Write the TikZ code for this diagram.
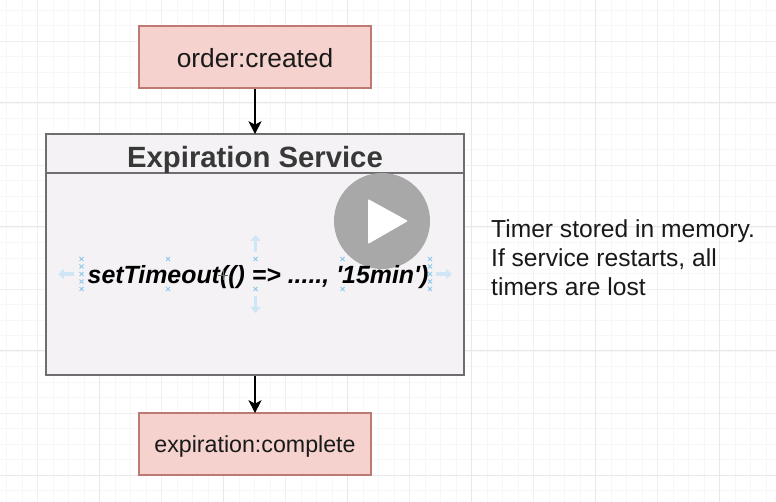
\documentclass[tikz,border=0pt]{standalone}
\usepackage{fontspec}
\setmainfont{Liberation Sans}
\newfontfamily\codefont{Liberation Sans}
\usepackage{tikz}
\usetikzlibrary{arrows.meta}
\definecolor{eventfill}{HTML}{F5D2CE}
\definecolor{eventline}{HTML}{BC7A72}
\definecolor{servicefill}{HTML}{F4F2F5}
\definecolor{serviceline}{HTML}{6E6E6E}
\definecolor{handleblue}{HTML}{CFE6F7}
\definecolor{markblue}{HTML}{8CC8EE}
\tikzset{event/.style={draw=eventline, fill=eventfill, line width=1.6pt, minimum width=232pt, minimum height=62pt, inner sep=0pt, text=black!90, text depth=0pt}}
\tikzset{arrow/.style={line width=1.6pt, -{Stealth[length=13pt,width=13pt,inset=3.5pt]}, shorten >=-1pt}}
\tikzset{mark x/.style={draw=markblue, line width=0.9pt}}
\tikzset{handle arrow/.style={draw=handleblue, line width=3.5pt, -{Triangle[length=6pt,width=10pt]}}}
\newcommand{\sizept}[1]{\fontsize{#1}{#1}\selectfont}

\begin{document}
\begin{tikzpicture}[x=1pt,y=-1pt]
\useasboundingbox (0,0) rectangle (776,502);
\fill[white] (0,0) rectangle (776,502);

% background grid
\foreach \x in {6.5,22,...,780} \draw[black!3, line width=0.7pt] (\x,0) -- (\x,502);
\foreach \y in {10,25.5,...,505} \draw[black!3, line width=0.7pt] (0,\y) -- (776,\y);
\foreach \x in {37.5,161.5,285.5,409.5,533.5,657.5} \draw[black!6, line width=0.8pt] (\x,0) -- (\x,502);
\foreach \y in {41,165,289,413} \draw[black!6, line width=0.8pt] (0,\y) -- (776,\y);
\foreach \x in {99.5,223.5,347.5,471.5,595.5,719.5} \draw[black!9, line width=1pt] (\x,0) -- (\x,502);
\foreach \y in {103,227,351,475} \draw[black!9, line width=1pt] (0,\y) -- (776,\y);

\node[event, font=\sizept{26.3}, text height=22pt] (created) at (255,57) {order:created};
\node[event, font=\sizept{23.2}, text height=17.4pt] (complete) at (255,444) {expiration:complete};

\node[draw=serviceline, fill=servicefill, line width=1.6pt, minimum width=418pt, minimum height=241pt, inner sep=0pt] (service) at (255,254.5) {};
\coordinate (titleleft) at (46,173);
\coordinate (titleright) at (464,173);
\draw[serviceline, line width=1.6pt] (titleleft) -- (titleright);
\node[font=\sizept{29.3}\bfseries, text=black!78] (title) at (255,160) {Expiration Service};

\draw[arrow] (created) -- (service);
\draw[arrow] (service) -- (complete);

% play button
\node[circle, fill=black!34, minimum size=96pt, inner sep=0pt] (play) at (382,221) {};
\fill[white, rounded corners=1pt] (368,199) -- (408,221) -- (368,244) -- cycle;

% selection handles
\foreach \x in {168,255.5,342.5} \foreach \y in {259,289}
  \draw[mark x] (\x-2,\y-2) -- (\x+2,\y+2) (\x-2,\y+2) -- (\x+2,\y-2);
\foreach \x in {81.5,430} \foreach \y in {259,266.5,274,281.5,289}
  \draw[mark x] (\x-2,\y-2) -- (\x+2,\y+2) (\x-2,\y+2) -- (\x+2,\y-2);
\draw[handle arrow] (74,274) -- (58,274);
\draw[handle arrow] (436,274) -- (452,274);
\draw[handle arrow] (255.5,252) -- (255.5,235);
\draw[handle arrow] (255.5,296) -- (255.5,313);

\node[font=\codefont\sizept{24.9}\bfseries\itshape, text=black, inner sep=0pt] (timeout) at (258,277) {setTimeout(() => ....., '15min')};
% cursor over the text
\draw[black!60, line width=0.6pt] (223,270) -- (223,280) (218,275) -- (228,275);

\node[align=left, anchor=north west, inner sep=0pt, font=\fontsize{24.6}{29}\selectfont, text=black!90] (note) at (491,219) {Timer stored in memory.\\If service restarts, all\\timers are lost};
\end{tikzpicture}
\end{document}
